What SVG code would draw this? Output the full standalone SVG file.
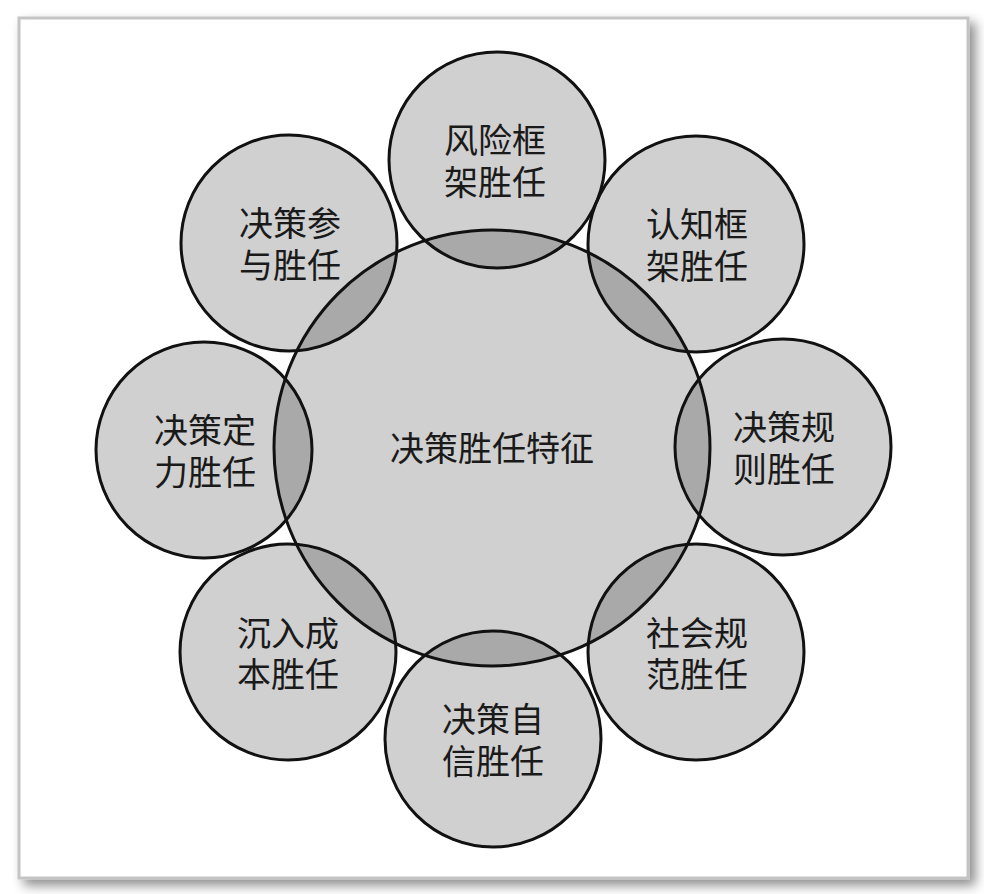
<svg xmlns="http://www.w3.org/2000/svg" width="984" height="894" viewBox="0 0 984 894">
<defs>
<style>
.fill{fill:#d0d0d0;stroke:none}
.lens{fill:#a9a9a9;stroke:none}
.ring{fill:none;stroke:#111;stroke-width:3}
.t{font-family:"Liberation Sans","Noto Sans CJK SC","Noto Sans CJK TC",sans-serif;font-size:34px;fill:#1a1a1a;text-anchor:middle;dominant-baseline:central}
</style>
<filter id="sh" x="-5%" y="-5%" width="112%" height="112%">
<feDropShadow dx="6" dy="6" stdDeviation="6" flood-color="#000" flood-opacity="0.45"/>
</filter>
<clipPath id="big"><circle cx="492" cy="448" r="218"/></clipPath>
</defs>
<rect x="0" y="0" width="984" height="894" fill="#ffffff"/>
<rect x="19" y="18" width="949" height="860" fill="#ffffff" stroke="#c4c4c4" stroke-width="3" filter="url(#sh)"/>
<g id="center">
<circle class="fill" cx="492" cy="448" r="218"/>
</g>
<g id="n1"><circle class="fill" cx="497" cy="160" r="108"/></g>
<g id="n2"><circle class="fill" cx="696" cy="244" r="108"/></g>
<g id="n3"><circle class="fill" cx="783" cy="447" r="108"/></g>
<g id="n4"><circle class="fill" cx="696" cy="652" r="108"/></g>
<g id="n5"><circle class="fill" cx="493" cy="739" r="108"/></g>
<g id="n6"><circle class="fill" cx="288" cy="652" r="108"/></g>
<g id="n7"><circle class="fill" cx="204" cy="450" r="108"/></g>
<g id="n8"><circle class="fill" cx="289" cy="243" r="108"/></g>
<g id="overlaps" clip-path="url(#big)">
<circle class="lens" cx="497" cy="160" r="108"/>
<circle class="lens" cx="696" cy="244" r="108"/>
<circle class="lens" cx="783" cy="447" r="108"/>
<circle class="lens" cx="696" cy="652" r="108"/>
<circle class="lens" cx="493" cy="739" r="108"/>
<circle class="lens" cx="288" cy="652" r="108"/>
<circle class="lens" cx="204" cy="450" r="108"/>
<circle class="lens" cx="289" cy="243" r="108"/>
</g>
<g id="outlines">
<circle class="ring" cx="492" cy="448" r="218"/>
<circle class="ring" cx="497" cy="160" r="108"/>
<circle class="ring" cx="696" cy="244" r="108"/>
<circle class="ring" cx="783" cy="447" r="108"/>
<circle class="ring" cx="696" cy="652" r="108"/>
<circle class="ring" cx="493" cy="739" r="108"/>
<circle class="ring" cx="288" cy="652" r="108"/>
<circle class="ring" cx="204" cy="450" r="108"/>
<circle class="ring" cx="289" cy="243" r="108"/>
</g>
<g id="labels">
<text class="t" x="492" y="449">决策胜任特征</text>
<text class="t"><tspan x="495" y="141">风险框</tspan><tspan x="495" y="183">架胜任</tspan></text>
<text class="t"><tspan x="697" y="225">认知框</tspan><tspan x="697" y="267">架胜任</tspan></text>
<text class="t"><tspan x="784" y="428">决策规</tspan><tspan x="784" y="470">则胜任</tspan></text>
<text class="t"><tspan x="697" y="634">社会规</tspan><tspan x="697" y="675">范胜任</tspan></text>
<text class="t"><tspan x="493" y="720">决策自</tspan><tspan x="493" y="762">信胜任</tspan></text>
<text class="t"><tspan x="288" y="634">沉入成</tspan><tspan x="288" y="675">本胜任</tspan></text>
<text class="t"><tspan x="205" y="431">决策定</tspan><tspan x="205" y="473">力胜任</tspan></text>
<text class="t"><tspan x="290" y="224">决策参</tspan><tspan x="290" y="266">与胜任</tspan></text>
</g>
</svg>
